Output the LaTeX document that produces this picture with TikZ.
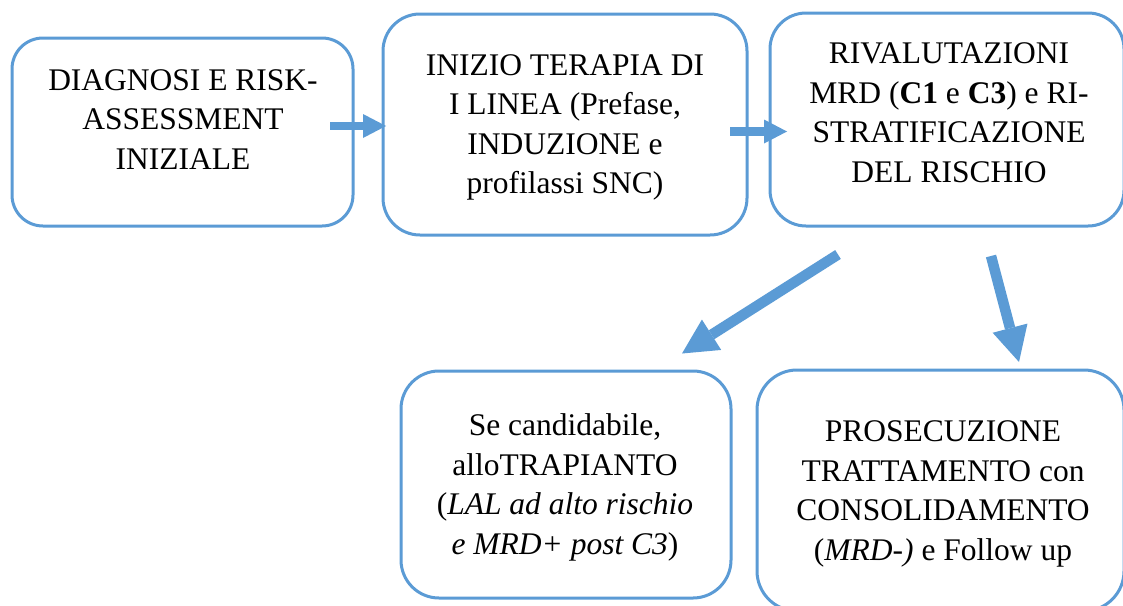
\documentclass[tikz,border=0pt]{standalone}
\usepackage{fontspec}
\setmainfont{Liberation Serif}
\usetikzlibrary{arrows.meta}
\definecolor{flowblue}{HTML}{5B9BD5}
\begin{document}
\begin{tikzpicture}[x=1pt,y=-1pt,
  stagebox/.style={draw=flowblue, line width=3pt, fill=white, inner sep=0pt},
  stagetext/.style={align=center, inner sep=0pt, font=\fontsize{31.5}{39.5}\selectfont},
  flatarrow/.style={draw=flowblue, line width=8.3pt,
    -{Triangle[length=23pt 0 0, width=24pt 0 0, line width=0pt 0 0]}},
  bigarrow/.style={draw=flowblue, line width=10.5pt,
    -{Triangle[length=35pt 0 0, width=36pt 0 0, line width=0pt 0 0]}}]
\clip (0,0) rectangle (1123,605);

% boxes of the flow
\node[stagebox, rounded corners=31pt, minimum width=341pt, minimum height=188pt] (b1) at (182.5,132) {};
\node[stagebox, rounded corners=37pt, minimum width=364pt, minimum height=221pt] (b2) at (565,124.5) {};
\node[stagebox, rounded corners=36pt, minimum width=354pt, minimum height=213pt] (b3) at (947,119.5) {};
\node[stagebox, rounded corners=38pt, minimum width=330pt, minimum height=227pt] (b4) at (566,484.5) {};
\node[stagebox, rounded corners=40pt, minimum width=367pt, minimum height=241pt] (b5) at (940.5,490.5) {};

% texts of the boxes
\node[stagetext] (t1) at (183,119.5) {DIAGNOSI E RISK-\\ASSESSMENT\\INIZIALE};
\node[stagetext] (t2) at (565,127.5) {INIZIO TERAPIA DI\\I LINEA (Prefase,\\INDUZIONE e\\profilassi SNC)};
\node[stagetext] (t3) at (949,112.5) {RIVALUTAZIONI\\MRD (\textbf{C1} e \textbf{C3}) e RI-\\STRATIFICAZIONE\\DEL RISCHIO};
\node[stagetext] (t4) at (565,487.5) {Se candidabile,\\alloTRAPIANTO\\(\textit{LAL ad alto rischio}\\\textit{e MRD+ post C3})};
\node[stagetext] (t5) at (943,494) {PROSECUZIONE\\TRATTAMENTO con\\CONSOLIDAMENTO\\(\textit{MRD-)} e Follow up};

% arrow end points
\coordinate (a1s) at (330,126);
\coordinate (a1e) at (386,126);
\coordinate (a2s) at (730,131.5);
\coordinate (a2e) at (787,131.5);
\coordinate (a3s) at (838,254.5);
\coordinate (a3e) at (682,353.5);
\coordinate (a4s) at (991,256);
\coordinate (a4e) at (1019,362);

\draw[flatarrow] (a1s) -- (a1e);
\draw[flatarrow] (a2s) -- (a2e);
\draw[bigarrow] (a3s) -- (a3e);
\draw[bigarrow] (a4s) -- (a4e);
\end{tikzpicture}
\end{document}
